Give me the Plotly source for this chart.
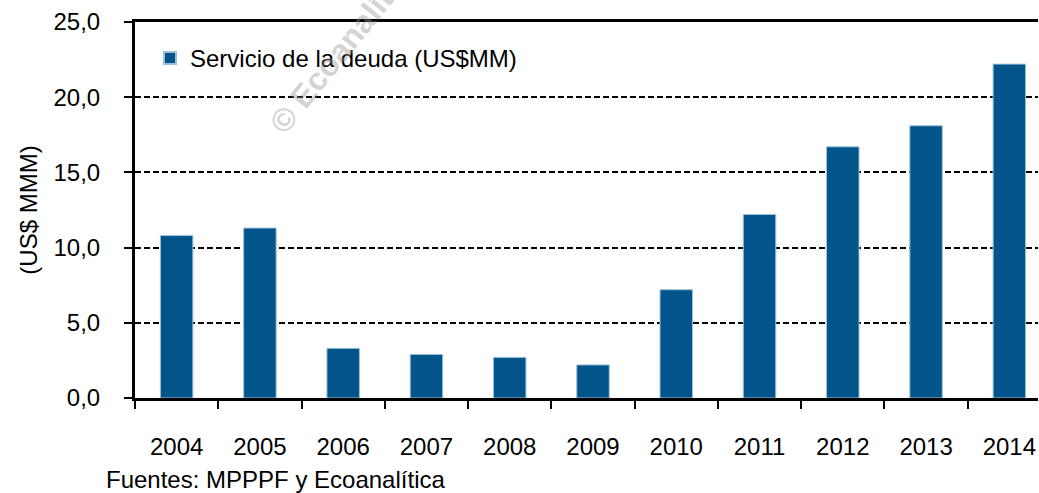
import plotly.graph_objects as go

years = ["2004", "2005", "2006", "2007", "2008", "2009", "2010", "2011", "2012", "2013", "2014"]
servicio = [10.8, 11.3, 3.3, 2.9, 2.7, 2.2, 7.2, 12.2, 16.7, 18.1, 22.2]
series_name = "Servicio de la deuda (US$MM)"
y_title = "(US$ MMM)"
source_text = "Fuentes: MPPPF y Ecoanalítica"
watermark = "<b>© Ecoanalítica</b>"

W, H = 1039, 493
L, R, T, B = 135, 1, 22, 95
pw = W - L - R
ph = H - T - B

def px(xp):
    return (xp - L) / pw

def py(yp):
    return (H - B - yp) / ph

FONT = "Liberation Sans, Arial, sans-serif"
FS = 24
BAR = "#02558A"

fig = go.Figure()
fig.add_trace(go.Bar(
    x=years, y=servicio, name=series_name,
    marker=dict(color=BAR, line=dict(color="#9cc0dc", width=1)),
    width=0.39, showlegend=True,
))

fig.update_layout(
    width=W, height=H,
    margin=dict(l=L, r=R, t=T, b=B, autoexpand=False),
    paper_bgcolor="white", plot_bgcolor="white",
    font=dict(family=FONT, size=FS, color="black"),
    separators=",.",
    showlegend=True,
    legend=dict(x=px(150), y=py(36), xanchor="left", yanchor="top",
                bgcolor="rgba(0,0,0,0)", font=dict(size=FS, family=FONT),
                itemsizing="constant"),
    xaxis=dict(
        type="category", range=[-0.5, -0.5 + pw / 83.27],
        showline=True, linecolor="black", linewidth=3, mirror=True,
        ticks="outside", tickson="boundaries", ticklen=8, tickwidth=2, tickcolor="black",
        showgrid=False, ticklabelstandoff=25,
        tickfont=dict(size=FS, family=FONT),
    ),
    yaxis=dict(
        range=[0, 25], dtick=5, tickformat=".1f",
        showline=True, linecolor="black", linewidth=3,
        ticks="outside", ticklen=8, tickwidth=2, tickcolor="black",
        showgrid=True, gridcolor="black", gridwidth=1.5, griddash="6px,3px",
        zeroline=False, ticklabelstandoff=19,
        tickfont=dict(size=FS, family=FONT),
        title=dict(text=y_title, font=dict(size=FS, family=FONT), standoff=10),
    ),
    annotations=[
        dict(text=watermark, xref="paper", yref="paper", x=px(345), y=py(44),
             xanchor="center", yanchor="middle", showarrow=False, textangle=-51,
             font=dict(size=32, family=FONT, color="rgba(150,150,150,0.42)")),
        dict(text=source_text, xref="paper", yref="paper", x=px(104), y=py(479),
             xanchor="left", yanchor="middle", showarrow=False,
             font=dict(size=FS, family=FONT, color="black")),
    ],
)

fig.write_html(
    "out.html",
    config={"displayModeBar": False},
    post_script="document.body.style.margin='0';document.body.style.overflow='hidden';",
)
